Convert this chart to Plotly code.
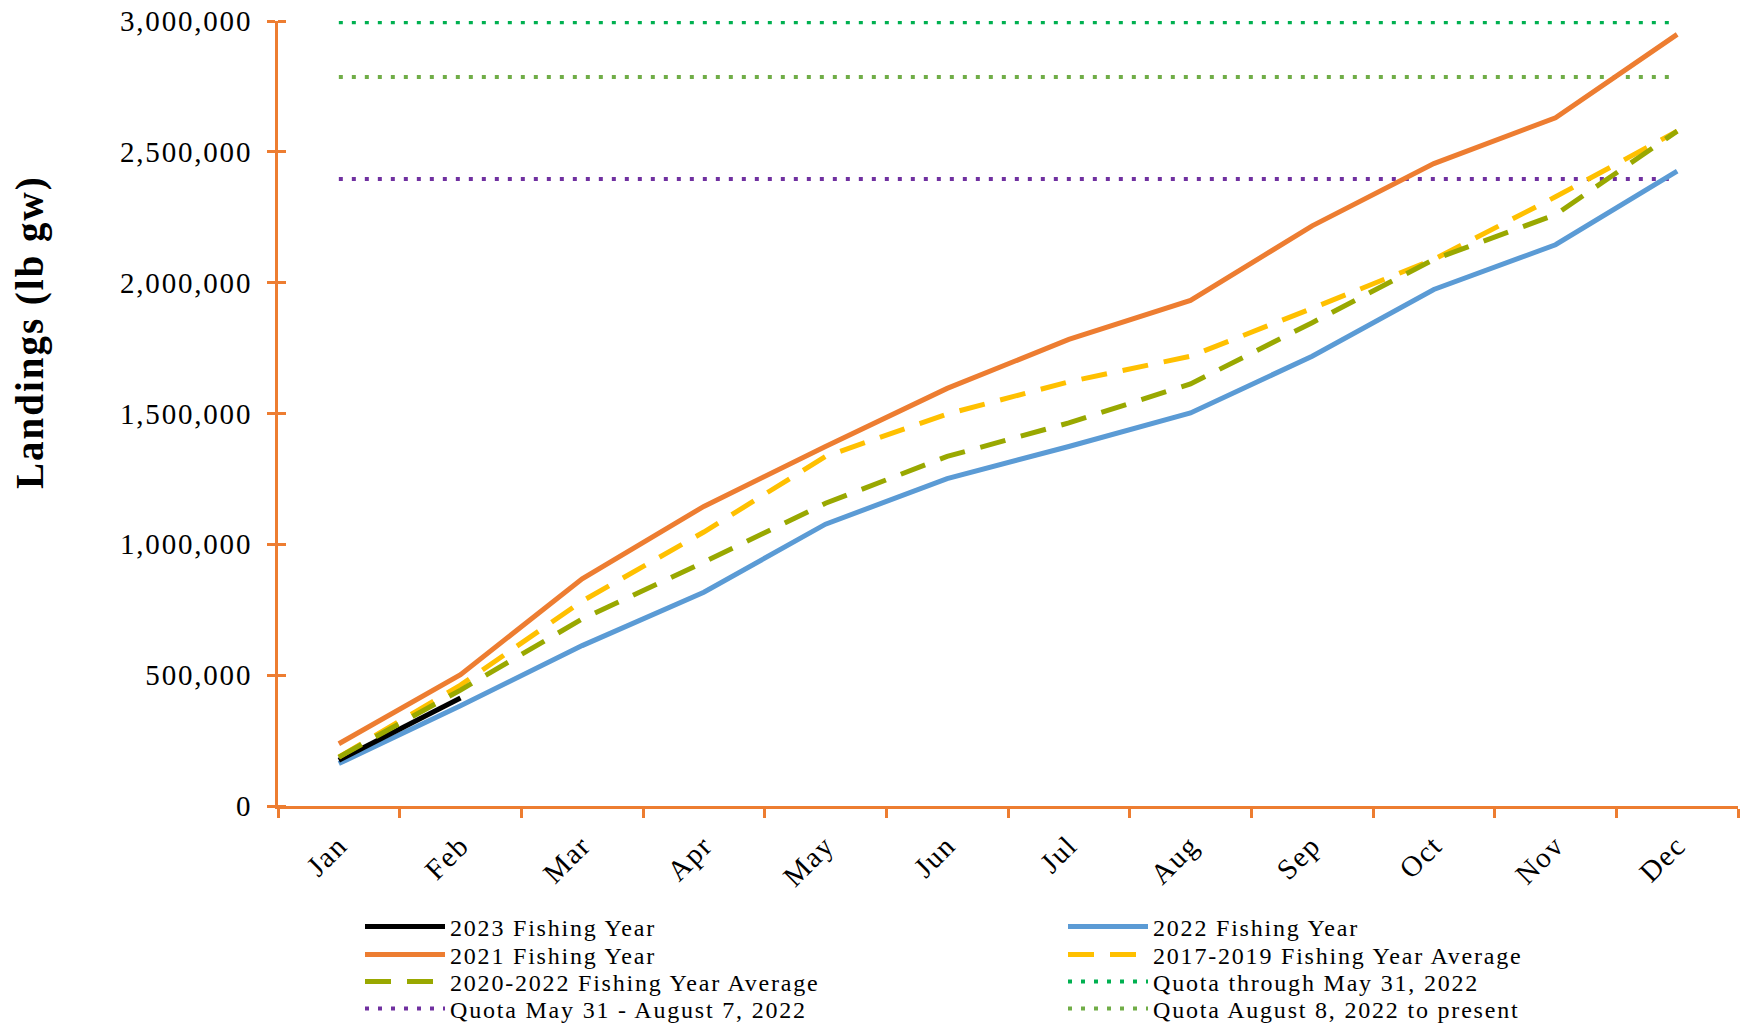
import plotly.graph_objects as go

months = ["Jan", "Feb", "Mar", "Apr", "May", "Jun", "Jul", "Aug", "Sep", "Oct", "Nov", "Dec"]

fy2023 = [175000, 413000]
fy2022 = [162000, 383000, 613000, 817000, 1077000, 1251000, 1374000, 1502000, 1719000, 1974000, 2145000, 2426000]
fy2021 = [238000, 502000, 868000, 1145000, 1374000, 1596000, 1783000, 1932000, 2217000, 2455000, 2630000, 2949000]
avg_2017_2019 = [187000, 462000, 783000, 1047000, 1336000, 1498000, 1621000, 1719000, 1902000, 2089000, 2328000, 2579000]
avg_2020_2022 = [187000, 443000, 715000, 932000, 1157000, 1336000, 1464000, 1613000, 1847000, 2089000, 2260000, 2579000]

quota_through_may31 = 2995000
quota_may31_aug7 = 2396000
quota_aug8_present = 2786000

yticks = [0, 500000, 1000000, 1500000, 2000000, 2500000, 3000000]
ytick_labels = ["0", "500,000", "1,000,000", "1,500,000", "2,000,000", "2,500,000", "3,000,000"]

FONT = "Liberation Serif"
ORANGE = "#ED7D31"

W, H = 1745, 1024


def spaced(text, px):
    return f'<span style="letter-spacing:{px}px">{text}</span>'


# plot area in page pixels
SL, SR, ST, SB = 278, 1738, 21, 806
L, T, R, B = SL, ST, W - SR, H - SB
PW = SR - SL
PH = SB - ST


def px_x(px):
    return (px - SL) / PW


def px_y(py):
    return (SB - py) / PH


# legend slots (column x of sample start, row centre y), page pixels
COL_X = [360, 1063]
ROW_Y = [927, 955, 982, 1009]

fig = go.Figure()

dot = "4px,9px"
dash = "26px,16px"
legend_layouts = {}


def add(name, x, y, color, dashstyle, slot, width=5):
    col, row = slot
    lid = "legend" if not legend_layouts else f"legend{len(legend_layouts) + 1}"
    legend_layouts[lid] = dict(
        x=px_x(COL_X[col]), y=px_y(ROW_Y[row]), xanchor="left", yanchor="middle",
        orientation="v", font=dict(family=FONT, size=24, color="black"),
        itemwidth=80, bgcolor="rgba(0,0,0,0)", borderwidth=0,
    )
    fig.add_trace(go.Scatter(
        x=x, y=y, mode="lines", name=spaced(name, 1.8), legend=lid,
        line=dict(color=color, width=width, dash=dashstyle),
    ))


add("Quota through May 31, 2022", months, [quota_through_may31] * 12, "#00B050", dot, (1, 2), 4)
add("Quota May 31 - August 7, 2022", months, [quota_may31_aug7] * 12, "#7030A0", dot, (0, 3), 4)
add("Quota August 8, 2022 to present", months, [quota_aug8_present] * 12, "#70AD47", dot, (1, 3), 4)
add("2022 Fishing Year", months, fy2022, "#5B9BD5", "solid", (1, 0))
add("2021 Fishing Year", months, fy2021, ORANGE, "solid", (0, 1))
add("2023 Fishing Year", months[:len(fy2023)], fy2023, "#000000", "solid", (0, 0))
add("2017-2019 Fishing Year Average", months, avg_2017_2019, "#FFC000", dash, (1, 1))
add("2020-2022 Fishing Year Average", months, avg_2020_2022, "#99A800", dash, (0, 2))

fig.update_layout(
    width=W, height=H,
    margin=dict(l=L, r=R, t=T, b=B, autoexpand=False),
    plot_bgcolor="white", paper_bgcolor="white",
    font=dict(family=FONT, size=24, color="black"),
    showlegend=True,
    annotations=[dict(
        text="<b>" + spaced("Landings (lb gw)", 2) + "</b>", xref="paper", yref="paper",
        x=px_x(30), y=px_y(332), textangle=-90, showarrow=False,
        font=dict(family=FONT, size=39, color="black"),
        xanchor="center", yanchor="middle",
    )],
    xaxis2=dict(
        overlaying="x", anchor="y", side="bottom", type="category",
        categoryorder="array", categoryarray=months, range=[-0.5, 11.5],
        tickson="boundaries", tickvals=months, ticks="inside", ticklen=8,
        tickcolor=ORANGE, tickwidth=3, showticklabels=False,
        showgrid=False, showline=False, zeroline=False,
    ),
    **legend_layouts,
)

fig.update_layout(xaxis=dict(
    type="category", categoryorder="array", categoryarray=months,
    range=[-0.5, 11.5], tickson="boundaries",
    tickvals=months, ticktext=[spaced(m, 1.5) for m in months],
    showline=True, linecolor=ORANGE, linewidth=3,
    ticks="outside", tickcolor=ORANGE, tickwidth=3, ticklen=9,
    tickangle=-45, showgrid=False, zeroline=False, automargin=False,
    ticklabelstandoff=8, ticklabeloverflow="allow",
    tickfont=dict(family=FONT, size=29),
))
fig.update_yaxes(
    range=[0, 3000000], tickvals=yticks, ticktext=[spaced(t, 1.8) for t in ytick_labels],
    showline=True, linecolor=ORANGE, linewidth=3,
    ticks="outside", tickcolor=ORANGE, tickwidth=3, ticklen=8,
    minor=dict(tickvals=yticks, ticks="inside", ticklen=8, tickcolor=ORANGE, tickwidth=3, showgrid=False),
    showgrid=False, zeroline=False, automargin=False, ticklabelstandoff=9,
    ticklabeloverflow="allow",
    tickfont=dict(family=FONT, size=29),
)

# remove the browser's default 8px body margin so the figure fills the window exactly
fig.write_html(
    "out.html",
    config={"displayModeBar": False},
    post_script="document.body.style.margin='0px';",
)
